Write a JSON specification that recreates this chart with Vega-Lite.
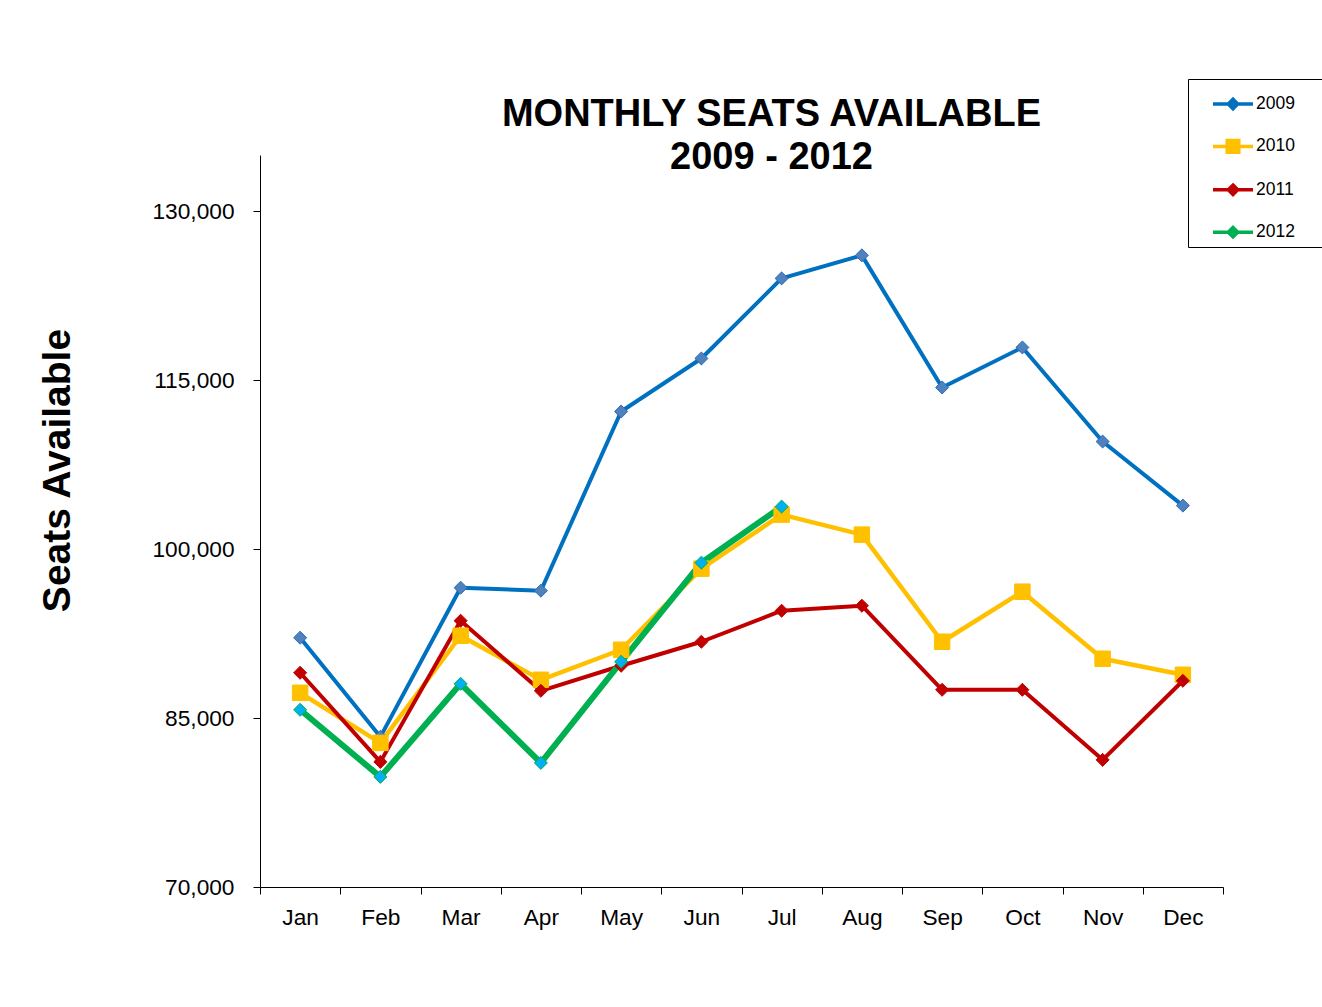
{
  "$schema": "https://vega.github.io/schema/vega-lite/v6.json",
  "width": 963,
  "height": 732,
  "autosize": "none",
  "padding": {"left": 260, "top": 155, "right": 99, "bottom": 120},
  "background": "white",
  "config": {
    "view": {"stroke": null},
    "font": "Liberation Sans"
  },
  "title": {
    "text": ["MONTHLY SEATS AVAILABLE", "2009 - 2012"],
    "font": "Liberation Sans",
    "fontSize": 38,
    "fontWeight": "bold",
    "color": "black",
    "anchor": "middle",
    "frame": "group",
    "dx": 30,
    "lineHeight": 43,
    "offset": -98
  },
  "data": {
    "values": [
      {"Month": "Jan", "Year": "2009", "Seats": 92133},
      {"Month": "Feb", "Year": "2009", "Seats": 83333},
      {"Month": "Mar", "Year": "2009", "Seats": 96578},
      {"Month": "Apr", "Year": "2009", "Seats": 96311},
      {"Month": "May", "Year": "2009", "Seats": 112222},
      {"Month": "Jun", "Year": "2009", "Seats": 116933},
      {"Month": "Jul", "Year": "2009", "Seats": 124044},
      {"Month": "Aug", "Year": "2009", "Seats": 126089},
      {"Month": "Sep", "Year": "2009", "Seats": 114356},
      {"Month": "Oct", "Year": "2009", "Seats": 117911},
      {"Month": "Nov", "Year": "2009", "Seats": 109556},
      {"Month": "Dec", "Year": "2009", "Seats": 103867},
      {"Month": "Jan", "Year": "2010", "Seats": 87244},
      {"Month": "Feb", "Year": "2010", "Seats": 82800},
      {"Month": "Mar", "Year": "2010", "Seats": 92311},
      {"Month": "Apr", "Year": "2010", "Seats": 88400},
      {"Month": "May", "Year": "2010", "Seats": 91067},
      {"Month": "Jun", "Year": "2010", "Seats": 98267},
      {"Month": "Jul", "Year": "2010", "Seats": 103067},
      {"Month": "Aug", "Year": "2010", "Seats": 101289},
      {"Month": "Sep", "Year": "2010", "Seats": 91778},
      {"Month": "Oct", "Year": "2010", "Seats": 96222},
      {"Month": "Nov", "Year": "2010", "Seats": 90267},
      {"Month": "Dec", "Year": "2010", "Seats": 88844},
      {"Month": "Jan", "Year": "2011", "Seats": 89022},
      {"Month": "Feb", "Year": "2011", "Seats": 81111},
      {"Month": "Mar", "Year": "2011", "Seats": 93644},
      {"Month": "Apr", "Year": "2011", "Seats": 87422},
      {"Month": "May", "Year": "2011", "Seats": 89644},
      {"Month": "Jun", "Year": "2011", "Seats": 91778},
      {"Month": "Jul", "Year": "2011", "Seats": 94533},
      {"Month": "Aug", "Year": "2011", "Seats": 94978},
      {"Month": "Sep", "Year": "2011", "Seats": 87511},
      {"Month": "Oct", "Year": "2011", "Seats": 87511},
      {"Month": "Nov", "Year": "2011", "Seats": 81289},
      {"Month": "Dec", "Year": "2011", "Seats": 88311},
      {"Month": "Jan", "Year": "2012", "Seats": 85733},
      {"Month": "Feb", "Year": "2012", "Seats": 79778},
      {"Month": "Mar", "Year": "2012", "Seats": 88044},
      {"Month": "Apr", "Year": "2012", "Seats": 81022},
      {"Month": "May", "Year": "2012", "Seats": 90000},
      {"Month": "Jun", "Year": "2012", "Seats": 98800},
      {"Month": "Jul", "Year": "2012", "Seats": 103778}
    ]
  },
  "encoding": {
    "x": {
      "field": "Month",
      "type": "ordinal",
      "sort": ["Jan", "Feb", "Mar", "Apr", "May", "Jun", "Jul", "Aug", "Sep", "Oct", "Nov", "Dec"],
      "scale": {"type": "band", "paddingInner": 0, "paddingOuter": 0},
      "axis": {
        "title": null,
        "labelAngle": 0,
        "labelFont": "Liberation Sans",
        "labelFontSize": 22.7,
        "labelColor": "black",
        "labelPadding": 12,
        "tickSize": 7,
        "tickColor": "black",
        "tickBand": "extent",
        "domainColor": "black",
        "grid": false
      }
    },
    "y": {
      "field": "Seats",
      "type": "quantitative",
      "scale": {"domain": [70000, 135000], "nice": false, "zero": false},
      "axis": {
        "values": [70000, 85000, 100000, 115000, 130000],
        "format": ",d",
        "title": "Seats Available",
        "titleFont": "Liberation Sans",
        "titleFontSize": 39,
        "titleFontWeight": "bold",
        "titleColor": "black",
        "titleAngle": -90,
        "titleAlign": "center",
        "titleBaseline": "middle",
        "titleX": -203,
        "titleY": 315,
        "labelFont": "Liberation Sans",
        "labelFontSize": 22.7,
        "labelColor": "black",
        "labelPadding": 19,
        "tickSize": 7,
        "tickColor": "black",
        "domainColor": "black",
        "grid": false
      }
    }
  },
  "layer": [
    {
      "mark": {"type": "line", "strokeJoin": "round"},
      "encoding": {
        "color": {
          "field": "Year",
          "type": "nominal",
          "scale": {
            "domain": ["2009", "2010", "2011", "2012"],
            "range": ["#0070C0", "#FFC000", "#C00000", "#00B050"]
          },
          "legend": {
            "title": null,
            "orient": "none",
            "legendX": 928,
            "legendY": -76,
            "padding": 3,
            "rowPadding": 8.4,
            "symbolOffset": 20,
            "symbolSize": 1600,
            "symbolStrokeWidth": 3.5,
            "labelFont": "Liberation Sans",
            "labelFontSize": 17.5,
            "labelColor": "black",
            "labelOffset": 1,
            "labelExpr": "datum.label + '\u00a0\u00a0\u00a0\u00a0\u00a0\u200b'",
            "strokeColor": "black",
            "fillColor": "white",
            "encoding": {
              "symbols": {
                "shape": {"value": {"expr": "datum.value == '2010' ? 'M-1,0H1M-0.29,-0.29H0.29V0.29H-0.29Z' : 'M-1,0H1M0,-0.235L0.235,0L0,0.235L-0.235,0Z'"}},
                "fill": {"value": {"expr": "datum.value == '2009' ? '#4F81BD' : datum.value == '2010' ? '#FFC000' : datum.value == '2011' ? '#C00000' : '#00B0F0'"}}
              }
            }
          }
        },
        "strokeWidth": {
          "condition": [
            {"test": "datum.Year == '2012'", "value": 6},
            {"test": "datum.Year == '2010'", "value": 4.5}
          ],
          "value": 4
        }
      }
    },
    {
      "mark": {"type": "point", "filled": true, "opacity": 1, "strokeWidth": 1},
      "encoding": {
        "fill": {
          "field": "Year",
          "type": "nominal",
          "scale": {"range": ["#4F81BD", "#FFC000", "#C00000", "#00B0F0"]},
          "legend": null
        },
        "stroke": {
          "field": "Year",
          "type": "nominal",
          "scale": {"range": ["#2F6DB5", "#FFC000", "#C00000", "#00B050"]},
          "legend": null
        },
        "shape": {
          "field": "Year",
          "type": "nominal",
          "scale": {"range": ["diamond", "square", "diamond", "diamond"]},
          "legend": null
        },
        "size": {
          "condition": {"test": "datum.Year == '2010'", "value": 240},
          "value": 170
        }
      }
    }
  ]
}
